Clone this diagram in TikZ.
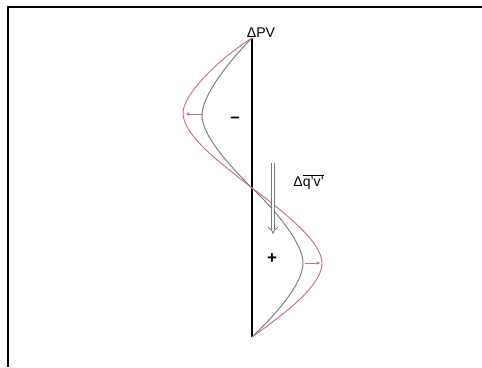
\documentclass[tikz,border=0pt]{standalone}
\usepackage{fontspec}
\setmainfont{Liberation Sans}
\setsansfont{Liberation Sans}
\usetikzlibrary{arrows.meta}
\definecolor{curveGray}{HTML}{7A7A7A}
\definecolor{curveRed} {HTML}{C8707E}
\tikzset{
  font=\sffamily,
  axis/.style={draw=black,line width=1.1pt},
  frameline/.style={draw=black,line width=1.6pt},
  base/.style={draw=curveGray,line width=0.8pt},
  shifted/.style={draw=curveRed,line width=0.8pt},
  nudge/.style={-{Stealth[length=3pt,width=3pt]},draw=curveRed,line width=0.5pt},
  flux/.style={draw=curveGray,double=white,double distance=2.4pt,line width=0.7pt,
    -{Implies[length=4pt]}},
  sign/.style={font=\sffamily\bfseries\Large,inner sep=0pt},
  tag/.style={font=\sffamily\large,inner sep=1pt},
}

\begin{document}
\begin{tikzpicture}[x=0.03cm,y=-0.03cm]

\useasboundingbox (0,0) rectangle (482,367);

% frame (top and left only)
\draw[frameline] (482,7) -- (8,7) -- (8,367);

% axis
\coordinate (top) at (252,38);
\coordinate (mid) at (252,188);
\coordinate (bot) at (252,337);
\draw[axis] (top) -- (bot);
\node[tag,anchor=south] (pvlabel) at (261,38.5) {ΔPV};

% unperturbed profile
\draw[base] (top) .. controls (228,62) and (202,96) .. (202,115)
  .. controls (202,136) and (230,166) .. (mid)
  .. controls (275,210) and (303,243) .. (303,263)
  .. controls (303,284) and (276,314) .. (bot);

% perturbed profile
\draw[shifted] (top) .. controls (220,58) and (183,94) .. (183,113)
  .. controls (183,136) and (222,164) .. (mid)
  .. controls (284,212) and (322,242) .. (322,263)
  .. controls (322,286) and (284,314) .. (bot);

% displacement arrows
\coordinate (upin)  at (203,114);
\coordinate (upout) at (186,114);
\coordinate (lowin)  at (305,263);
\coordinate (lowout) at (320,263);
\draw[nudge] (upin) -- (upout);
\draw[nudge] (lowin) -- (lowout);

\node[sign] (minus) at (235,120) {–};
\node[sign] (plus) at (272,259) {+};

% flux arrow
\coordinate (fluxtop) at (273,163);
\coordinate (fluxbot) at (273,234);
\draw[flux] (fluxtop) -- (fluxbot);
\node[tag,anchor=west] (fluxlabel) at (292,182) {Δ$\overline{\mbox{q'v'}}$};

\end{tikzpicture}
\end{document}
